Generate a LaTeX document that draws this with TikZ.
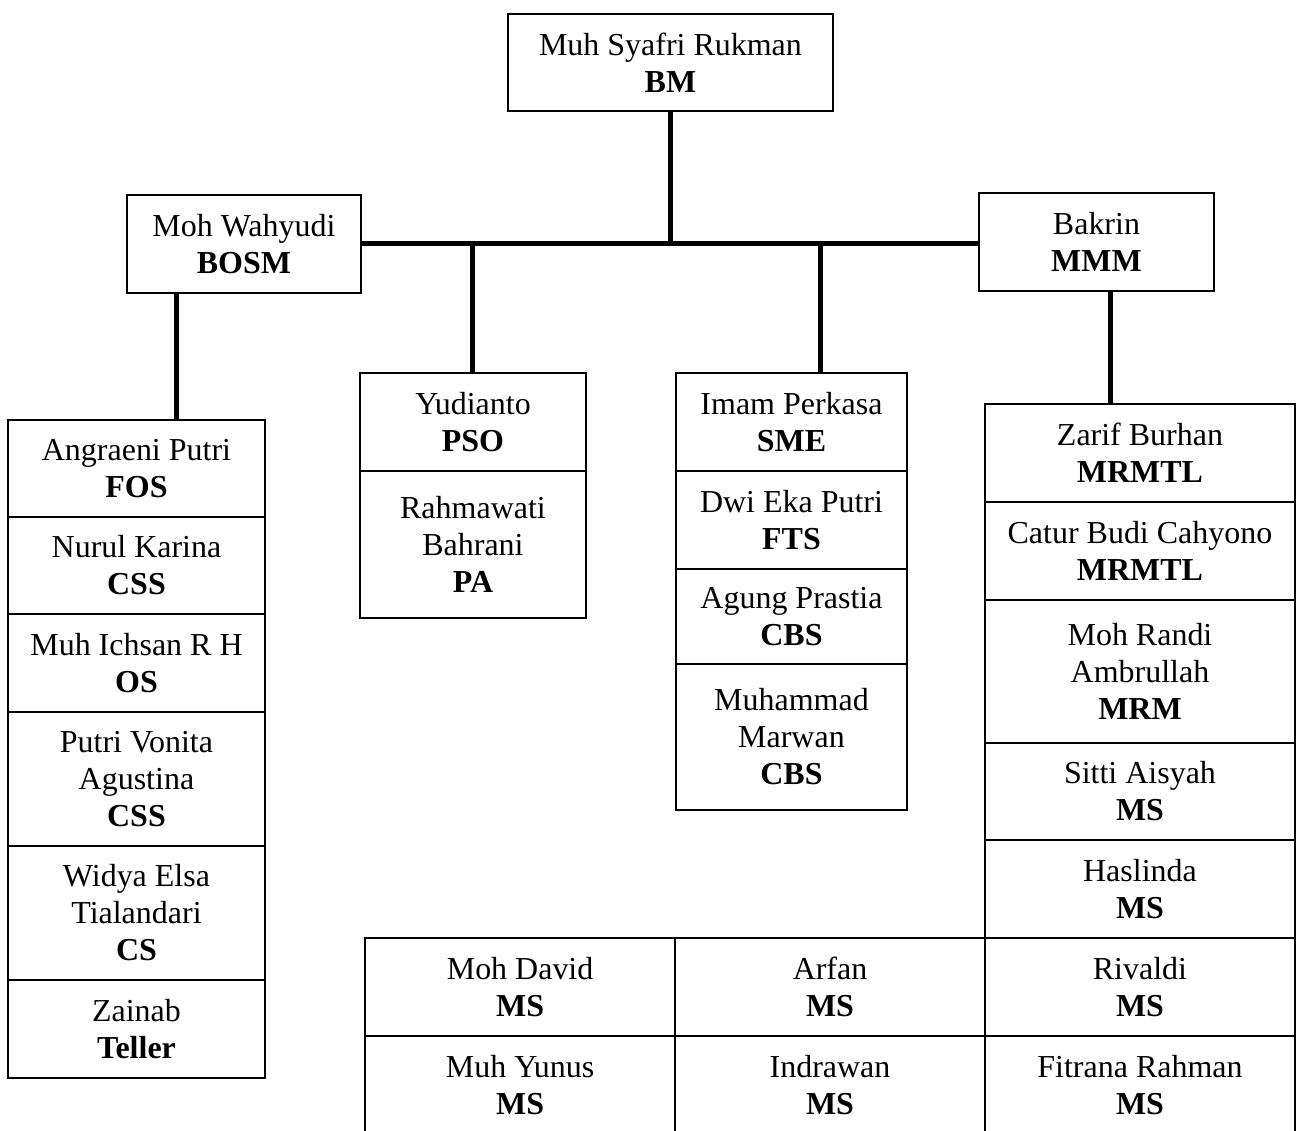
\documentclass[tikz,border=0pt]{standalone}
\usepackage{fontspec}
\setmainfont{Liberation Serif}
\usetikzlibrary{positioning}
\tikzset{
  bx/.style={rectangle, draw=black, line width=0.04cm, inner sep=0pt, outer sep=0pt, align=center, minimum height=1.96cm, font=\fontsize{18.2}{21}\selectfont},
  hd/.style={bx, minimum width=6.5cm, minimum height=1.94cm},
  lb/.style={bx, minimum width=5.14cm},
  pb/.style={bx, minimum width=4.52cm},
  sb/.style={bx, minimum width=4.62cm},
  rb/.style={bx, minimum width=6.2cm},
  ln/.style={line width=0.1cm},
  node distance=0pt
}
\begin{document}
\begin{tikzpicture}[x=0.02cm, y=-0.02cm]
	\clip (0,0) rectangle (1298,1130);
	\node[hd, anchor=north west] (bm) at (508,14) {Muh Syafri Rukman\\\textbf{BM}};
	\node[bx, minimum width=4.68cm, anchor=north west] (bosm) at (127,195) {Moh Wahyudi\\\textbf{BOSM}};
	\node[bx, minimum width=4.7cm, anchor=north west] (mmm) at (979,193) {Bakrin\\\textbf{MMM}};
	% kolom kiri
	\node[lb, minimum height=1.94cm, anchor=north west] (fos) at (8,420) {Angraeni Putri\\\textbf{FOS}};
	\node[lb, minimum height=1.94cm, below=of fos] (css) {Nurul Karina\\\textbf{CSS}};
	\node[lb, below=of css] (os) {Muh Ichsan R H\\\textbf{OS}};
	\node[lb, minimum height=2.68cm, below=of os] (cssb) {Putri Vonita\\Agustina\\\textbf{CSS}};
	\node[lb, minimum height=2.68cm, below=of cssb] (cs) {Widya Elsa\\Tialandari\\\textbf{CS}};
	\node[lb, below=of cs] (teller) {Zainab\\\textbf{Teller}};
	% kolom PSO
	\node[pb, anchor=north west] (pso) at (360,373) {Yudianto\\\textbf{PSO}};
	\node[pb, minimum height=2.94cm, below=of pso] (pa) {Rahmawati\\Bahrani\\\textbf{PA}};
	% kolom SME
	\node[sb, anchor=north west] (sme) at (676,373) {Imam Perkasa\\\textbf{SME}};
	\node[sb, below=of sme] (fts) {Dwi Eka Putri\\\textbf{FTS}};
	\node[sb, minimum height=1.9cm, below=of fts] (cbs) {Agung Prastia\\\textbf{CBS}};
	\node[sb, minimum height=2.92cm, below=of cbs] (cbsb) {Muhammad\\Marwan\\\textbf{CBS}};
	% kolom kanan
	\node[rb, anchor=north west] (mrmtl) at (985,404) {Zarif Burhan\\\textbf{MRMTL}};
	\node[rb, below=of mrmtl] (mrmtlb) {Catur Budi Cahyono\\\textbf{MRMTL}};
	\node[rb, minimum height=2.86cm, below=of mrmtlb] (mrm) {Moh Randi\\Ambrullah\\\textbf{MRM}};
	\node[rb, minimum height=1.94cm, below=of mrm] (ms1) {Sitti Aisyah\\\textbf{MS}};
	\node[rb, below=of ms1] (ms2) {Haslinda\\\textbf{MS}};
	\node[rb, below=of ms2] (ms3) {Rivaldi\\\textbf{MS}};
	\node[rb, minimum height=2.4cm, text depth=0.44cm, below=of ms3] (ms4) {Fitrana Rahman\\\textbf{MS}};
	% baris bawah
	\node[rb, left=of ms3] (ms5) {Arfan\\\textbf{MS}};
	\node[rb, left=of ms5] (ms6) {Moh David\\\textbf{MS}};
	\node[rb, minimum height=2.4cm, text depth=0.44cm, below=of ms6] (ms7) {Muh Yunus\\\textbf{MS}};
	\node[rb, minimum height=2.4cm, text depth=0.44cm, below=of ms5] (ms8) {Indrawan\\\textbf{MS}};
	%
	\draw[ln] (bosm.east) -- (bosm.east -| mmm.west);
	\draw[ln] (bm.south) -- (bm.south |- bosm.east);
	\draw[ln] (pso.north) -- (pso.north |- bosm.east);
	\draw[ln] ([xshift=0.58cm]sme.north) -- ([xshift=0.58cm]sme.north |- bosm.east);
	\draw[ln] ([xshift=-1.34cm]bosm.south) -- ([xshift=-1.34cm]bosm.south |- fos.north);
	\draw[ln] ([xshift=0.29cm]mmm.south) -- ([xshift=0.29cm]mmm.south |- mrmtl.north);
\end{tikzpicture}
\end{document}
